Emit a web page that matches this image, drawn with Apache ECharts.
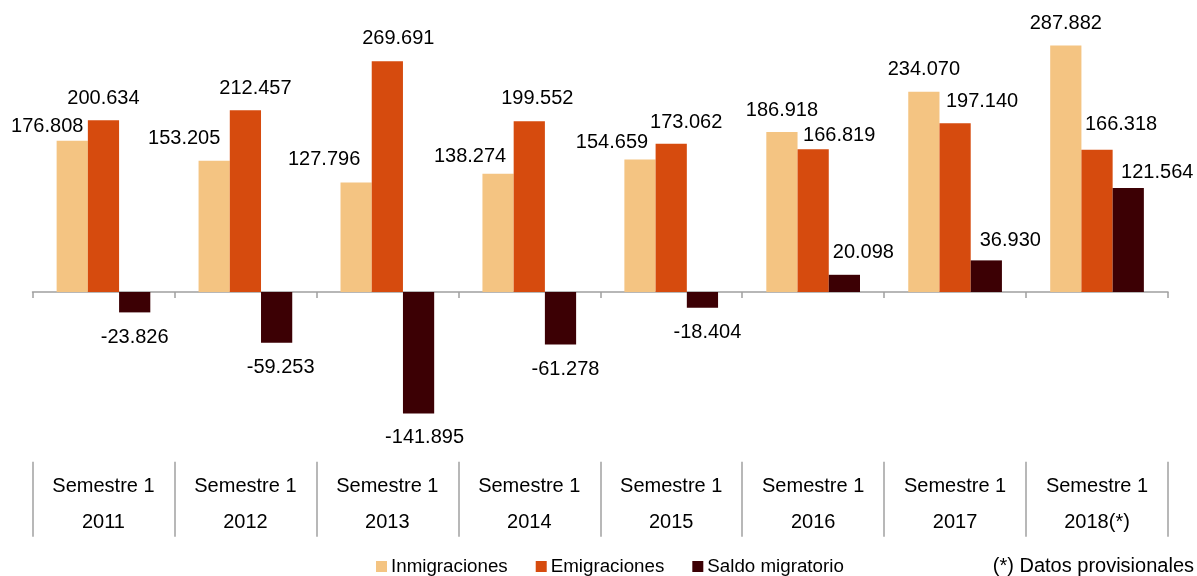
<!DOCTYPE html>
<html>
<head>
<meta charset="utf-8">
<script src="https://cdn.jsdelivr.net/npm/echarts@6/dist/echarts.min.js"></script>
<style>
  html, body { margin: 0; padding: 0; background: #fff; }
  #chart { width: 1197px; height: 576px; }
</style>
</head>
<body>
<div id="chart"></div>
<script>
// datos
const semestres = ["Semestre 1\n2011", "Semestre 1\n2012", "Semestre 1\n2013", "Semestre 1\n2014",
  "Semestre 1\n2015", "Semestre 1\n2016", "Semestre 1\n2017", "Semestre 1\n2018(*)"];
const inmigraciones = [176808, 153205, 127796, 138274, 154659, 186918, 234070, 287882];
const emigraciones = [200634, 212457, 269691, 199552, 173062, 166819, 197140, 166318];
const saldo = [-23826, -59253, -141895, -61278, -18404, 20098, 36930, 121564];

// desplazamiento de etiquetas (como en el original)
const nudgeInm = [[-25, 8], [-30, 0], [-32, -1], [-28, 5], [-28, 5], [0, 0], [0, 0], [0, 0]];
const nudgeEmi = [[0, 0], [10, 0], [11, -1], [8, -1], [15, 1], [26, 8], [27, 0], [24, -3]];
const nudgeSaldo = [[0, 0], [4, 0], [6, -1], [5, 0], [5, 0], [19, 0], [24, 2], [29, 7]];

const fmt = (v) => (v < 0 ? "-" : "") + String(Math.abs(v)).replace(/\B(?=(\d{3})+(?!\d))/g, ".");

function items(values, nudge) {
  return values.map((v, i) => ({
    value: v,
    label: {
      position: v < 0 ? "bottom" : "top",
      distance: v < 0 ? 15 : 12,
      offset: nudge[i],
    },
  }));
}

const labelStyle = {
  show: true,
  color: "#000",
  fontSize: 20,
  fontFamily: "Liberation Sans, Arial, sans-serif",
  formatter: (p) => fmt(p.value),
};

const dom = echarts.init(document.getElementById("chart"));
const options = {
  animation: false,
  textStyle: { fontFamily: "Liberation Sans, Arial, sans-serif" },
  color: ["#F4C482", "#D64B0E", "#3C0004"],
  grid: [
    { left: 32.5, width: 1135.5, top: 35.2, height: 428 },
    { left: 32.5, width: 1135.5, top: 461.7, height: 75 },
  ],
  legend: {
    data: ["Inmigraciones", "Emigraciones", "Saldo migratorio"],
    left: 376,
    top: 557,
    padding: 0,
    icon: "rect",
    itemWidth: 11,
    itemHeight: 11,
    itemGap: 28,
    textStyle: { fontSize: 18.75, color: "#000", padding: [0, 0, 0, -1] },
  },
  xAxis: [
    {
      type: "category",
      gridIndex: 0,
      data: semestres,
      axisLine: { lineStyle: { color: "#A0A0A0", width: 1.5 } },
      axisTick: { show: true, length: 6, alignWithLabel: false, lineStyle: { color: "#A0A0A0", width: 1.5 } },
      axisLabel: { show: false },
    },
    {
      type: "category",
      gridIndex: 1,
      position: "top",
      data: semestres,
      axisLine: { show: false },
      axisTick: { show: false },
      splitLine: { show: true, lineStyle: { color: "#A0A0A0", width: 1.5 } },
      axisLabel: {
        inside: true,
        margin: 7,
        color: "#000",
        fontSize: 20,
        lineHeight: 36,
        interval: 0,
      },
    },
  ],
  yAxis: [
    { type: "value", gridIndex: 0, min: -200000, max: 300000, show: false, splitLine: { show: false } },
    { type: "value", gridIndex: 1, show: false, splitLine: { show: false } },
  ],
  graphic: [
    {
      type: "text",
      right: 3,
      top: 556,
      style: { text: "(*) Datos provisionales", fontSize: 20, fill: "#000", fontFamily: "Liberation Sans, Arial, sans-serif" },
    },
  ],
  series: [
    {
      name: "Inmigraciones",
      type: "bar",
      barGap: "0%",
      barCategoryGap: "34%",
      data: items(inmigraciones, nudgeInm),
      label: labelStyle,
    },
    {
      name: "Emigraciones",
      type: "bar",
      barGap: "0%",
      barCategoryGap: "34%",
      data: items(emigraciones, nudgeEmi),
      label: labelStyle,
    },
    {
      name: "Saldo migratorio",
      type: "bar",
      barGap: "0%",
      barCategoryGap: "34%",
      data: items(saldo, nudgeSaldo),
      label: labelStyle,
    },
  ],
};
dom.setOption(options);
window.addEventListener("resize", () => dom.resize());
</script>
</body>
</html>
